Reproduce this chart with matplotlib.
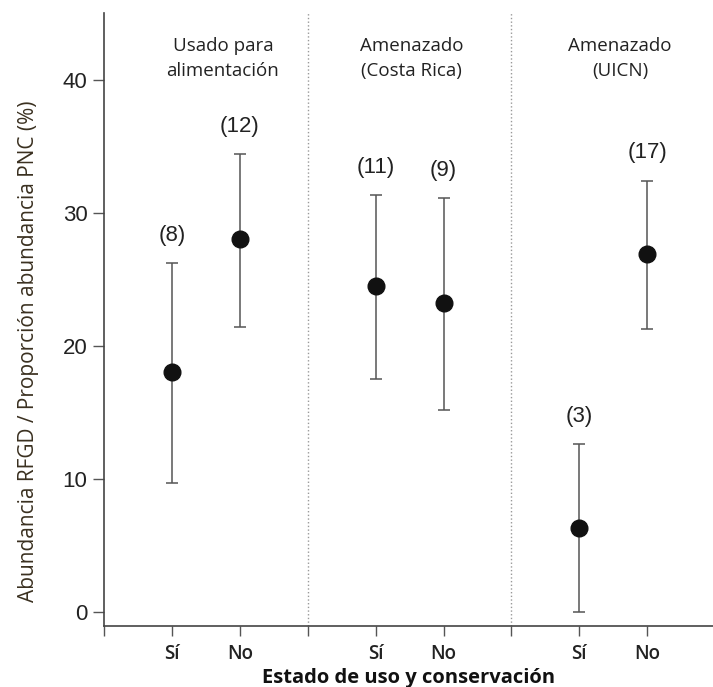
import matplotlib
matplotlib.use("Agg")
import matplotlib.pyplot as plt

# Data
groups = ["Usado para\nalimentación", "Amenazado\n(Costa Rica)", "Amenazado\n(UICN)"]
group_title_x = [1.75, 4.53, 7.6]
categories = ["Sí", "No", "Sí", "No", "Sí", "No"]
x_pos = [1, 2, 4, 5, 7, 8]
means = [18.0, 28.0, 24.5, 23.2, 6.3, 26.9]
lower = [9.7, 21.4, 17.5, 15.2, 0.0, 21.3]
upper = [26.2, 34.4, 31.3, 31.1, 12.6, 32.4]
counts = ["(8)", "(12)", "(11)", "(9)", "(3)", "(17)"]
dividers = [3, 6]
yticks = [0, 10, 20, 30, 40]

fig = plt.figure(figsize=(7.13, 6.87), dpi=100)
ax = fig.add_axes([0.146, 0.0888, 0.854, 0.8922])

err_lo = [m - l for m, l in zip(means, lower)]
err_hi = [u - m for m, u in zip(means, upper)]
ax.errorbar(x_pos, means, yerr=[err_lo, err_hi], fmt='o', color='#111111',
            markersize=12, ecolor='#555555', elinewidth=1.1, capsize=4.5,
            capthick=1.1, zorder=3)

for x, u, c in zip(x_pos, upper, counts):
    ax.annotate(c, xy=(x, u), xytext=(0, 20), textcoords='offset points',
                ha='center', va='center', fontsize=16, family='Liberation Sans',
                color='#222222')

for d in dividers:
    ax.axvline(d, color='#999999', linestyle=':', linewidth=1.0, zorder=1)

for t, gx in zip(groups, group_title_x):
    ax.text(gx, 41.6, t, ha='center', va='center', fontsize=13.5,
            family='Open Sans', color='#222222', linespacing=1.5)

ax.set_xlim(0, 8.97)
ax.set_ylim(-1.05, 45)

ax.set_yticks(yticks)
ax.set_yticklabels([str(v) for v in yticks], fontsize=16, family='Liberation Sans', color='#222222')

major = list(range(0, 9))
ax.set_xticks(major)
labels = [''] * 9
for x, c in zip(x_pos, categories):
    labels[x] = c
ax.set_xticklabels(labels, fontsize=13.5, family='Open Sans', fontweight='semibold', color='#222222')

ax.tick_params(axis='y', length=8, width=1.0, color='#555555', pad=4)
ax.tick_params(axis='x', length=7, width=1.0, color='#555555', pad=6)

for s in ['top', 'right']:
    ax.spines[s].set_visible(False)
for s in ['left', 'bottom']:
    ax.spines[s].set_color('#444444')
    ax.spines[s].set_linewidth(1.2)

ax.set_xlabel("Estado de uso y conservación", fontsize=14.5, family='Open Sans',
              fontweight='bold', color='#111111', labelpad=3)
ax.set_ylabel("Abundancia RFGD / Proporción abundancia PNC (%)", fontsize=15,
              family='Open Sans', fontweight='medium', color='#3a3020')
ax.yaxis.set_label_coords(-0.107, 0.449)

fig.savefig("out.png", dpi=100)
